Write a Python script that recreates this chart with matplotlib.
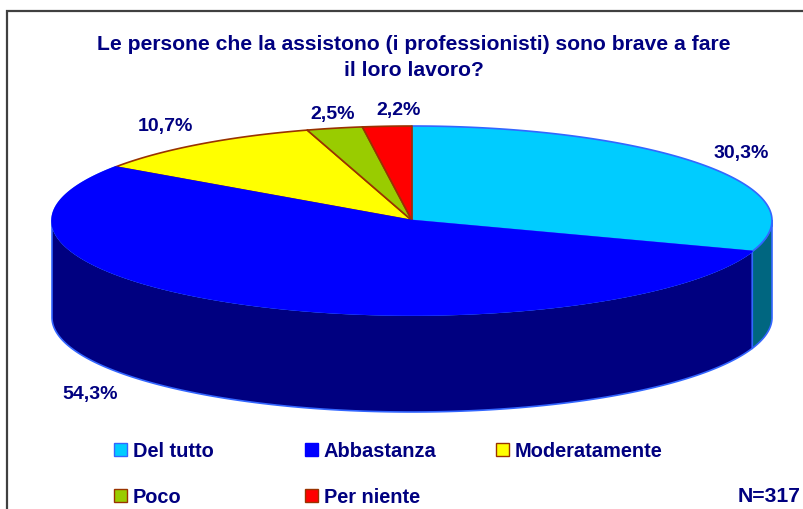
import numpy as np
import matplotlib
matplotlib.use("Agg")
import matplotlib.pyplot as plt
from matplotlib.patches import Polygon, Rectangle

plt.rcParams['font.family'] = ['Liberation Sans', 'DejaVu Sans']

title_lines = ["Le persone che la assistono (i professionisti) sono brave a fare", "il loro lavoro?"]
categories = ["Del tutto", "Abbastanza", "Moderatamente", "Poco", "Per niente"]
values = [30.3, 54.3, 10.7, 2.5, 2.2]
labels = ["30,3%", "54,3%", "10,7%", "2,5%", "2,2%"]
colors = ["#00CCFF", "#0000FF", "#FFFF00", "#99CC00", "#FF0000"]
side_colors = ["#006680", "#000080", "#808000", "#4D6600", "#800000"]
edge_colors = ["#3366FF", "#3366FF", "#993300", "#993300", "#993300"]
note = "N=317"

W, H = 804, 510
TXT = "#000080"
fig = plt.figure(figsize=(W / 100, H / 100), dpi=100)
ax = fig.add_axes([0, 0, 1, 1])
ax.set_xlim(0, W)
ax.set_ylim(H, 0)
ax.axis("off")

cx, cy, rx, ry, depth = 412, 221.5, 360, 94.5, 97
total = sum(values)
cum = np.concatenate([[0], np.cumsum(values)]) / total * 2 * np.pi


def pts(a, dy=0):
    return np.column_stack([cx + rx * np.sin(a), cy - ry * np.cos(a) + dy])


# side walls (front half only: angle between 90 and 270 degrees)
for i in range(len(values)):
    lo, hi = max(cum[i], np.pi / 2), min(cum[i + 1], 3 * np.pi / 2)
    if hi <= lo:
        continue
    a = np.linspace(lo, hi, 200)
    poly = np.vstack([pts(a), pts(a[::-1], depth)])
    ax.add_patch(Polygon(poly, closed=True, facecolor=side_colors[i],
                         edgecolor=edge_colors[i], lw=1.2, joinstyle="round", zorder=2))

# top wedges
for i in range(len(values)):
    a = np.linspace(cum[i], cum[i + 1], 300)
    poly = np.vstack([[cx, cy], pts(a)])
    ax.add_patch(Polygon(poly, closed=True, facecolor=colors[i],
                         edgecolor=edge_colors[i], lw=1.2, joinstyle="round", zorder=3))
# blue wedge outlined in its own colour, over the neighbouring edges
a = np.linspace(cum[1], cum[2], 300)
ax.add_patch(Polygon(np.vstack([[cx, cy], pts(a)]), closed=True, facecolor=colors[1],
                     edgecolor="#0000FF", lw=1.0, zorder=3.5))

# frame
ax.plot([7, 7, W], [H, 12, 12], color="#404040", lw=1.6, solid_joinstyle="miter", zorder=5)

# title
for s, y in zip(title_lines, [45, 70]):
    ax.text(413.5, y, s, ha="center", va="center", color=TXT, fontsize=15.2,
            fontweight="bold", zorder=6)

# data labels
label_pos = [(741, 154), (90, 395), (165, 127), (333, 114), (399, 111)]
for s, (x, y) in zip(labels, label_pos):
    ax.text(x, y, s, ha="center", va="center", color=TXT, fontsize=14, fontweight="bold", zorder=6)

# legend
leg_pos = [(114, 451), (305, 451), (496, 451), (114, 497), (305, 497)]
for c, e, s, (x, y) in zip(colors, ["#3366FF", "#0000FF", "#993300", "#993300", "#993300"], categories, leg_pos):
    ax.add_patch(Rectangle((x, y - 7), 13, 13, facecolor=c, edgecolor=e, lw=1.0, zorder=6))
    ax.text(x + 19, y + 0.5, s, ha="left", va="center", color=TXT, fontsize=14.4, fontweight="bold", zorder=6)

ax.text(801, 497, note, ha="right", va="center", color=TXT, fontsize=15.2, fontweight="bold", zorder=6)

fig.savefig("out.png", dpi=100)
